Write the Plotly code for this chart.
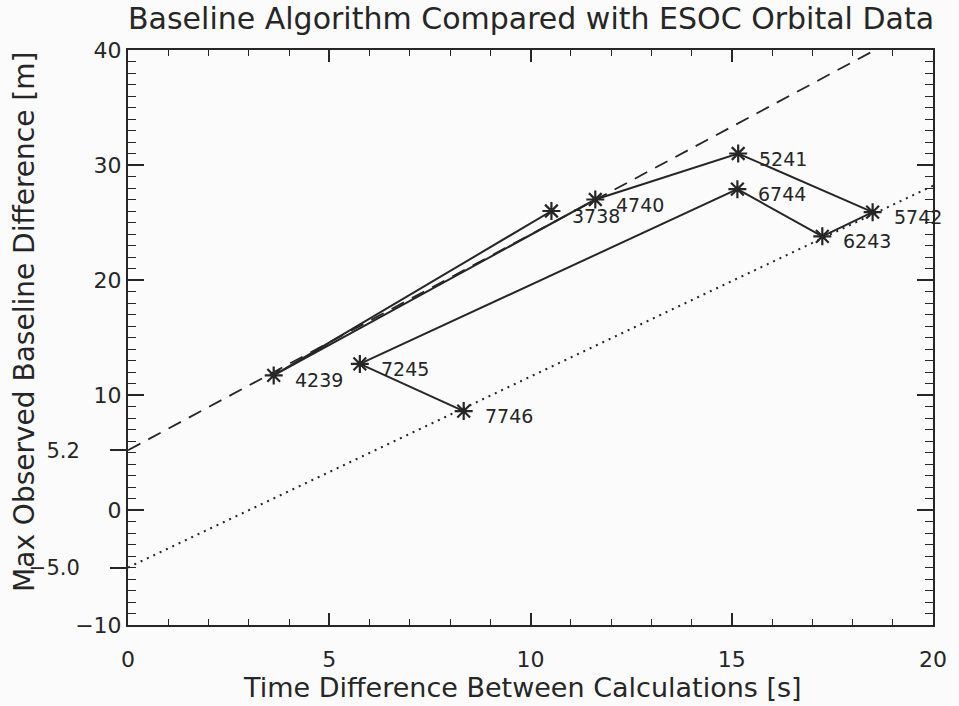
import plotly.graph_objects as go

# ---- data ----
labels = ["3738", "4239", "4740", "5241", "5742", "6243", "6744", "7245", "7746"]
time_diff = [10.52, 3.62, 11.61, 15.16, 18.50, 17.25, 15.14, 5.76, 8.34]
max_diff = [26.0, 11.7, 27.0, 31.0, 25.9, 23.8, 27.9, 12.7, 8.6]

# bounding lines: intercept and slope
upper_intercept, upper_slope = 5.2, 1.875
lower_intercept, lower_slope = -5.0, 1.66

x_range = [0, 20]
y_range = [-10, 40]
x_ticks = [0, 5, 10, 15, 20]
y_ticks = [-10, 0, 10, 20, 30, 40]
extra_y_ticks = [5.2, -5.0]
extra_y_text = ["5.2", "\u22125.0"]

INK = "#262626"
FONT = "DejaVu Sans"

fig = go.Figure()

fig.add_trace(go.Scatter(
    x=x_range, y=[upper_intercept + upper_slope * v for v in x_range],
    mode="lines", line=dict(color=INK, width=1.8, dash="14px,9px"),
    hoverinfo="skip", showlegend=False))
fig.add_trace(go.Scatter(
    x=x_range, y=[lower_intercept + lower_slope * v for v in x_range],
    mode="lines", line=dict(color=INK, width=2, dash="2px,5px"),
    hoverinfo="skip", showlegend=False))

fig.add_trace(go.Scatter(
    x=time_diff, y=max_diff, mode="lines+markers",
    line=dict(color=INK, width=2),
    marker=dict(symbol="asterisk-open", size=15, color=INK,
                line=dict(color=INK, width=2.2)),
    showlegend=False))

# invisible trace on the secondary y axis so that it is drawn
fig.add_trace(go.Scatter(
    x=[None], y=[None], yaxis="y2", mode="lines",
    hoverinfo="skip", showlegend=False))

annotations = []
for lab, xv, yv in zip(labels, time_diff, max_diff):
    annotations.append(dict(
        x=xv, y=yv, xref="x", yref="y", text=lab, showarrow=False,
        xanchor="left", yanchor="middle", xshift=19, yshift=-5,
        font=dict(family=FONT, size=19, color=INK)))

# axis titles and chart title
annotations.append(dict(
    x=0.49, y=-0.108, xref="paper", yref="paper", yanchor="middle",
    text="Time Difference Between Calculations [s]", showarrow=False,
    font=dict(family=FONT, size=27, color=INK)))
annotations.append(dict(
    x=-0.128, y=0.527, xref="paper", yref="paper", xanchor="center",
    text="Max Observed Baseline Difference [m]", showarrow=False, textangle=-90,
    font=dict(family=FONT, size=28, color=INK)))
annotations.append(dict(
    x=0.5, y=1.055, xref="paper", yref="paper", yanchor="middle",
    text="Baseline Algorithm Compared with ESOC Orbital Data", showarrow=False,
    font=dict(family=FONT, size=30, color=INK)))

fig.update_layout(
    width=959, height=706,
    margin=dict(l=128, r=19, t=50, b=81),
    paper_bgcolor="#fbfbfb", plot_bgcolor="#fbfbfb",
    annotations=annotations,
    font=dict(family=FONT, color=INK),
    yaxis2=dict(
        overlaying="y", side="left", anchor="x", range=y_range,
        tickmode="array", tickvals=extra_y_ticks, ticktext=extra_y_text,
        ticks="outside", ticklen=17, tickwidth=2, tickcolor=INK,
        showline=False, showgrid=False, zeroline=False,
        ticklabelstandoff=26,
        tickfont=dict(family=FONT, size=21, color=INK)),
)
fig.update_xaxes(
    range=x_range, tickvals=x_ticks, ticks="inside", ticklen=12, tickwidth=1.5,
    tickcolor=INK, showline=True, linecolor=INK, linewidth=2, mirror="ticks",
    showgrid=False, zeroline=False, ticklabelstandoff=14,
    tickfont=dict(family=FONT, size=22, color=INK),
    minor=dict(dtick=1, ticks="inside", ticklen=6, tickwidth=1.2, tickcolor=INK,
               showgrid=False))
fig.update_yaxes(
    selector=dict(anchor="x") if False else None,
)
fig.layout.yaxis.update(
    range=y_range, tickvals=y_ticks, ticks="inside", ticklen=16, tickwidth=1.5,
    tickcolor=INK, showline=True, linecolor=INK, linewidth=2, mirror="ticks",
    showgrid=False, zeroline=False, ticklabelstandoff=0,
    tickfont=dict(family=FONT, size=22, color=INK),
    minor=dict(dtick=1, ticks="inside", ticklen=8, tickwidth=1.2, tickcolor=INK,
               showgrid=False))

fig.write_html("out.html")
